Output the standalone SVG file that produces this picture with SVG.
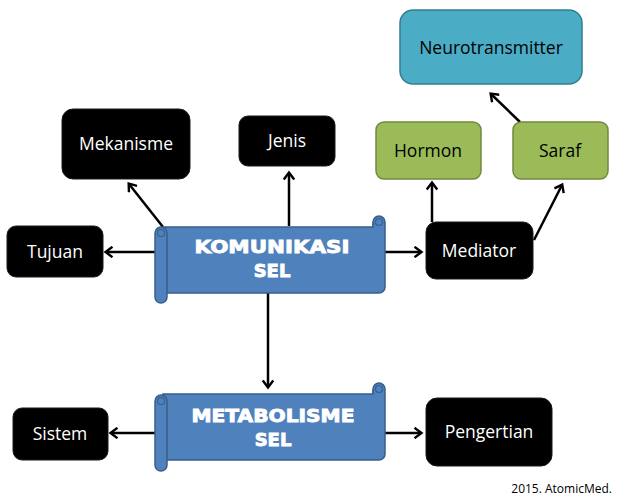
<svg xmlns="http://www.w3.org/2000/svg" width="619" height="501" viewBox="0 0 619 501">
<style>
.blk{fill:#000;stroke:#1a1a1a;stroke-width:1}
.grn{fill:#9BBB59;stroke:#71893F;stroke-width:1.5}
.blu{fill:#4BACC6;stroke:#357D91;stroke-width:1.5}
.scr{fill:#4F81BD;stroke:#385D8A;stroke-width:1.5}
.t{font-family:"Open Sans","Liberation Sans",sans-serif;font-size:17.5px;text-anchor:middle}
.w{fill:#fff}
.k{fill:#000}
.st{font-family:"DejaVu Sans","Liberation Sans",sans-serif;font-weight:bold;font-size:18px;fill:#fff;stroke:#fff;stroke-width:0.9;text-anchor:middle}
.c{stroke:#000;stroke-width:2.5;fill:none;marker-end:url(#ah)}
</style>
<defs>
<marker id="ah" markerWidth="12" markerHeight="12" refX="8" refY="6" orient="auto" markerUnits="userSpaceOnUse" viewBox="0 0 12 12">
<path d="M1.5,0.8 L8.5,6 L1.5,11.2" fill="none" stroke="#000" stroke-width="2.4"/>
</marker>
</defs>
<rect width="619" height="501" fill="#fff"/>
<g id="connectors">
<line class="c" x1="157" y1="252" x2="106" y2="252"/>
<line class="c" x1="163" y1="227" x2="129" y2="184"/>
<line class="c" x1="289" y1="226" x2="289" y2="173"/>
<line class="c" x1="385" y1="252" x2="421" y2="252"/>
<line class="c" x1="432" y1="222" x2="432" y2="183"/>
<line class="c" x1="534" y1="240" x2="562" y2="185"/>
<line class="c" x1="520" y1="122" x2="491" y2="94"/>
<line class="c" x1="268" y1="293" x2="268" y2="387"/>
<line class="c" x1="157" y1="433" x2="111" y2="433"/>
<line class="c" x1="385" y1="433" x2="421" y2="433"/>
</g>
<g id="mekanisme"><rect class="blk" x="62" y="109" width="128" height="70" rx="11"/><text class="t w" x="126" y="150">Mekanisme</text></g>
<g id="jenis"><rect class="blk" x="239" y="116" width="96" height="50" rx="9"/><text class="t w" x="287" y="147">Jenis</text></g>
<g id="tujuan"><rect class="blk" x="7" y="226" width="96" height="51" rx="9"/><text class="t w" x="55" y="258">Tujuan</text></g>
<g id="mediator"><rect class="blk" x="426" y="222" width="107" height="57" rx="10"/><text class="t w" x="479" y="257">Mediator</text></g>
<g id="hormon"><rect class="grn" x="376" y="122" width="105" height="57" rx="8"/><text class="t k" x="428" y="157">Hormon</text></g>
<g id="saraf"><rect class="grn" x="513" y="122" width="95" height="57" rx="8"/><text class="t k" x="560" y="157">Saraf</text></g>
<g id="neurotransmitter"><rect class="blu" x="400" y="10" width="182" height="74" rx="13"/><text class="t k" x="491" y="54">Neurotransmitter</text></g>
<g id="sistem"><rect class="blk" x="13" y="408" width="95" height="52" rx="9"/><text class="t w" x="60" y="440">Sistem</text></g>
<g id="pengertian"><rect class="blk" x="426" y="398" width="126" height="68" rx="11"/><text class="t w" x="489" y="438">Pengertian</text></g>
<g id="komunikasi-sel">
<path class="scr" d="M163,227 H373 V222 A6,6 0 0 1 385,222 V287 A6,6 0 0 1 379,293 H163 Z"/>
<rect class="scr" x="155" y="227" width="12" height="76" rx="6"/>
<circle cx="161" cy="233" r="3.5" fill="none" stroke="#385D8A" stroke-width="1.2"/>
<circle cx="379" cy="222" r="3.5" fill="none" stroke="#385D8A" stroke-width="1.2"/>
<path d="M373,222 V227" stroke="#385D8A" stroke-width="1.2"/>
<text class="st" x="272" y="253" textLength="155" lengthAdjust="spacingAndGlyphs">KOMUNIKASI</text>
<text class="st" x="272" y="277">SEL</text>
</g>
<g id="metabolisme-sel">
<path class="scr" d="M163,394 H373 V389 A6,6 0 0 1 385,389 V454 A6,6 0 0 1 379,460 H163 Z"/>
<rect class="scr" x="155" y="395" width="12" height="76" rx="6"/>
<circle cx="161" cy="401" r="3.5" fill="none" stroke="#385D8A" stroke-width="1.2"/>
<circle cx="379" cy="389" r="3.5" fill="none" stroke="#385D8A" stroke-width="1.2"/>
<path d="M373,389 V394" stroke="#385D8A" stroke-width="1.2"/>
<text class="st" x="273" y="422" textLength="163" lengthAdjust="spacingAndGlyphs">METABOLISME</text>
<text class="st" x="273" y="446">SEL</text>
</g>
<text x="612" y="493" font-family="Open Sans,Liberation Sans,sans-serif" font-size="12" text-anchor="end" fill="#000">2015. AtomicMed.</text>
</svg>
